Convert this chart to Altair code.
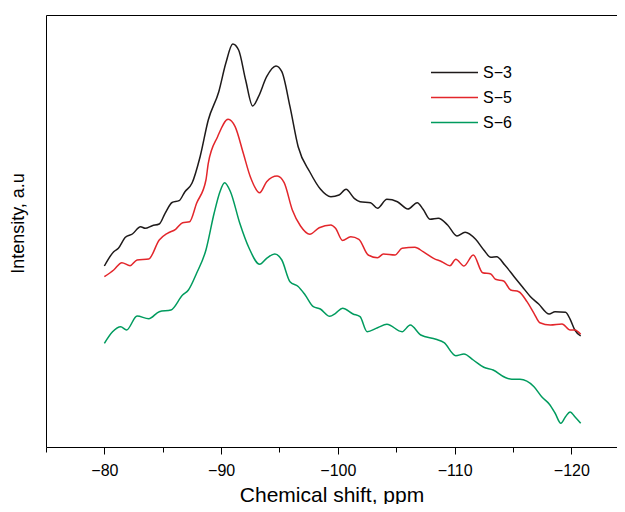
import altair as alt
import pandas as pd

# ---- data (ppm, intensity in arbitrary units) ----
s3_ppm = [-80.0, -80.8, -81.2, -81.8, -82.4, -83.1, -83.5, -84.1, -84.7, -85.2, -85.8, -86.4, -86.9, -87.5,
          -88.2, -88.9, -89.8, -90.4, -91.0, -91.5, -92.1, -92.7, -93.2, -93.9, -94.7, -95.2, -95.9, -96.6,
          -97.6, -98.5, -99.4, -100.1, -100.7, -101.4, -101.9, -102.8, -103.4, -104.2, -105.1, -106.0, -106.8,
          -107.3, -107.9, -108.6, -109.4, -110.2, -110.9, -111.8, -112.5, -113.1, -113.6, -114.3, -115.1,
          -115.8, -116.5, -117.2, -118.1, -118.6, -119.5, -119.9, -120.3, -120.8]
s3_int = [181, 195.3, 198.7, 209.7, 213, 220.3, 218.7, 221.3, 223, 233.7, 244.5, 246.3, 255.3, 263.7,
          290.3, 327, 355.3, 383.7, 403, 397, 367, 341, 350.3, 370.3, 381, 375.3, 340.3, 300.3,
          275, 258, 250.3, 252, 257.7, 248.7, 245.3, 244.3, 238.7, 247.7, 245.3, 238, 244.3,
          237.7, 227.7, 228.7, 222, 211, 214.7, 207.7, 197, 189.7, 190.3, 182, 170.3,
          160.3, 150.3, 143, 133, 135.3, 134.7, 127.7, 117, 111]

s5_ppm = [-80.0, -80.8, -81.5, -82.2, -82.8, -83.8, -84.7, -85.4, -86.1, -86.7, -87.3, -87.9, -88.7, -88.9,
          -89.7, -90.6, -91.2, -91.9, -92.5, -93.3, -93.9, -94.8, -95.4, -96.1, -96.8, -97.6, -98.4, -99.4,
          -99.8, -100.4, -101.1, -101.8, -102.6, -103.4, -103.9, -104.9, -105.5, -106.6, -107.3, -108.2,
          -108.9, -109.6, -110.1, -110.8, -111.6, -112.4, -113.1, -113.5, -114.2, -114.8, -115.5, -116.2,
          -116.8, -117.3, -118.2, -119.2, -119.9, -120.3, -120.8]
s5_int = [170.3, 177, 184.3, 181.3, 187, 188, 207, 213.7, 217.7, 224.3, 225.3, 243.7, 267, 283.7,
          310.3, 327.7, 320.3, 293.7, 270.3, 254.3, 265.3, 271, 264.3, 237, 221, 212.7, 219.3, 222,
          218.7, 206.5, 210.3, 207.7, 192, 189.3, 193, 192, 198.7, 199.7, 195.3, 188.7,
          185.3, 181.3, 187.7, 181, 192, 174.3, 173, 167.7, 166, 157, 155.3, 145.3,
          133.7, 124.3, 122, 123, 117, 117, 112.7]

s6_ppm = [-80.0, -80.7, -81.4, -81.9, -82.8, -83.8, -84.7, -85.7, -86.7, -87.2, -87.9, -88.7, -89.4, -89.9,
          -90.3, -90.8, -91.6, -92.4, -93.3, -93.9, -94.6, -95.2, -95.9, -96.6, -97.2, -97.9, -98.5, -99.3,
          -99.8, -100.4, -101.3, -101.9, -102.5, -103.4, -104.2, -105.5, -106.2, -107.1, -108.4, -109.1,
          -110.1, -110.8, -111.6, -112.5, -113.3, -114.3, -114.9, -115.6, -116.8, -117.5, -118.1, -118.6,
          -119.1, -119.5, -119.9, -120.3, -120.8]
s6_int = [103.7, 115.3, 120.3, 117, 131, 128.3, 135.3, 137, 152, 157, 173.7, 197, 233.7, 255.3,
          264.3, 255.3, 223.7, 198.7, 182.7, 188.7, 193, 187, 165.3, 160.5, 152, 140.3, 138, 130.7,
          133.7, 138.7, 133, 130.3, 115.3, 119.3, 122.7, 115.3, 122, 112, 107.7, 104.3,
          91.3, 93, 87, 79.7, 77, 69.7, 67.7, 67.7, 60.3, 49.7, 43, 34,
          23.7, 30.3, 35, 30.3, 23.7]

names = ["S\u22123", "S\u22125", "S\u22126"]
colors = ["#1e1a1a", "#e3262b", "#009b5e"]
tick_values = [-75, -80, -85, -90, -95, -100, -105, -110, -115, -120]

rows = []
for name, xs, ys in zip(names, [s3_ppm, s5_ppm, s6_ppm], [s3_int, s5_int, s6_int]):
    for x, y in zip(xs, ys):
        rows.append({"ppm": x, "intensity": y, "sample": name})
df = pd.DataFrame(rows)

FONT = "Liberation Sans"
W, H = 571, 432
xscale = alt.Scale(domain=[-123.91, -75], reverse=True, nice=False, zero=False)
yscale = alt.Scale(domain=[0, 432], nice=False, zero=False)

lines = alt.Chart(df).mark_line(strokeWidth=1.5, interpolate="monotone").encode(
    x=alt.X("ppm:Q", scale=xscale,
            axis=alt.Axis(values=tick_values, grid=False,
                          labelExpr="datum.value % 10 == 0 ? '\u2212' + abs(datum.value) : ''",
                          tickSize={"condition": {"test": "datum.value % 10 == 0", "value": 7}, "value": 5},
                          tickColor="black", domainColor="black", labelColor="black",
                          labelFont=FONT, labelFontSize=16, labelBaseline="alphabetic", labelPadding=21,
                          title="Chemical shift, ppm", titleFont=FONT, titleFontSize=21,
                          titleFontWeight="normal", titleColor="black",
                          titleBaseline="alphabetic", titleY=54)),
    y=alt.Y("intensity:Q", scale=yscale,
            axis=alt.Axis(labels=False, ticks=False, grid=False, domainColor="black",
                          title="Intensity, a.u", titleFont=FONT, titleFontSize=18,
                          titleFontWeight="normal", titleColor="black", titlePadding=19,
                          titleY=208)),
    color=alt.Color("sample:N", scale=alt.Scale(domain=names, range=colors),
                    legend=alt.Legend(title=None, orient="none", legendX=384, legendY=47.5,
                                      symbolType="stroke", symbolSize=2209, symbolStrokeWidth=1.5,
                                      labelFont=FONT, labelFontSize=16, labelColor="black",
                                      labelOffset=4, clipHeight=20, rowPadding=5, padding=0)),
)

frame = alt.Chart(df).mark_point(opacity=0).encode(
    x=alt.X("ppm:Q", scale=xscale,
            axis=alt.Axis(orient="top", labels=False, ticks=False, grid=False, title=None,
                          domainColor="black")),
    y=alt.Y("intensity:Q", scale=yscale, axis=None),
)

chart = alt.layer(lines, frame).resolve_axis(x="independent", y="independent").properties(
    width=W, height=H,
    autosize=alt.AutoSizeParams(type="none"),
    padding={"left": 38, "top": 7, "right": 0, "bottom": 57}
).configure_view(stroke=None)

chart.save("out.html", embed_options={"renderer": "svg", "actions": False})
